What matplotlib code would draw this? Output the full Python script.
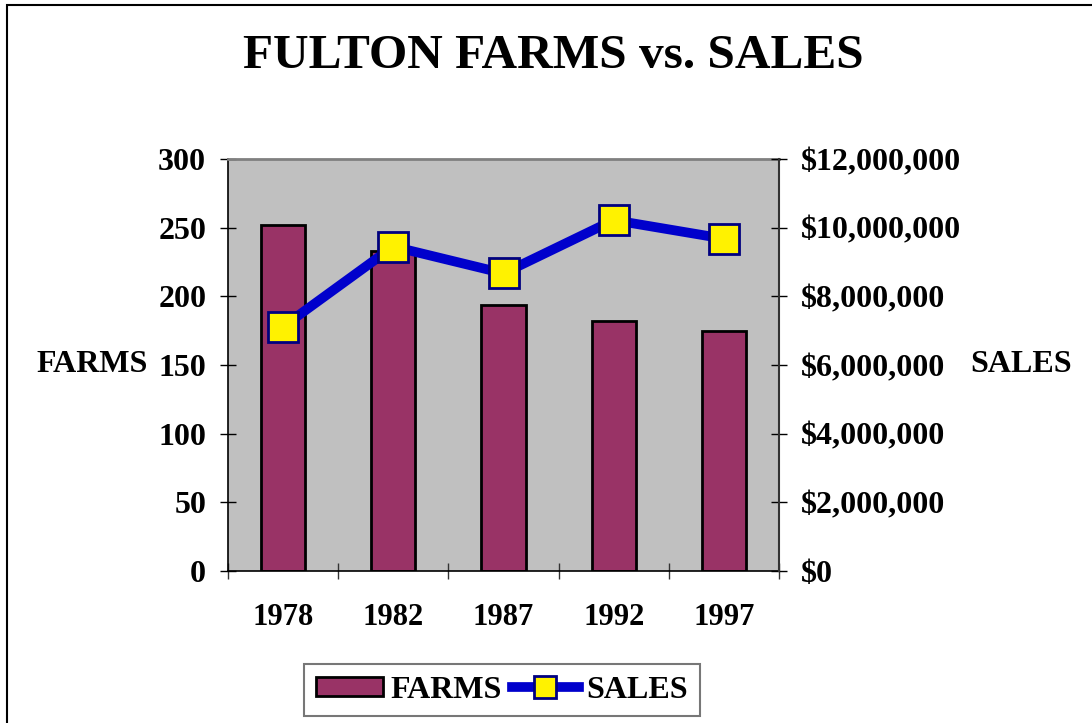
import matplotlib.pyplot as plt
from matplotlib.patches import Rectangle
from matplotlib.ticker import FuncFormatter, MultipleLocator

years = ["1978", "1982", "1987", "1992", "1997"]
farms = [252, 233, 194, 182, 175]
sales = [7120000, 9450000, 8670000, 10220000, 9680000]

plt.rcParams["font.family"] = ["Liberation Serif", "DejaVu Serif"]
plt.rcParams["font.weight"] = "bold"

W, H = 1092, 723
fig = plt.figure(figsize=(W / 100, H / 100), dpi=100)
fig.patch.set_facecolor("white")

# outer chart border (only top and left visible in the reference)
fig.patches.append(Rectangle((7 / W, -0.1), 1.2, 1 - 5 / H + 0.1, transform=fig.transFigure,
                             fill=False, edgecolor="black", linewidth=1.5))

ax = fig.add_axes([228 / W, 1 - 571 / H, (779 - 228) / W, (571 - 159) / H])
ax.set_facecolor("#C0C0C0")
x = list(range(len(years)))
ax.bar(x, farms, width=0.4, color="#993366", edgecolor="black", linewidth=2, zorder=2)
ax.set_xlim(-0.5, len(years) - 0.5)
ax.set_ylim(0, 300)
ax.yaxis.set_major_locator(MultipleLocator(50))
ax.set_xticks([i - 0.5 for i in range(len(years) + 1)])
ax.set_xticklabels([])
ax.set_xticks(x, minor=True)
ax.set_xticklabels(years, minor=True, fontsize=22, fontweight="bold")
ax.tick_params(axis="x", which="minor", length=0, pad=23)
ax.tick_params(axis="x", which="major", direction="inout", length=12, width=1, color="#333333")
ax.tick_params(axis="y", direction="inout", length=11.5, width=1, labelsize=23, pad=10)
for lab in ax.get_yticklabels():
    lab.set_fontweight("bold")
ax.spines["top"].set_color("#808080")
ax.spines["top"].set_linewidth(2)
ax.spines["left"].set_linewidth(1.2)
ax.spines["bottom"].set_linewidth(1.2)
ax.spines["right"].set_visible(False)

ax2 = ax.twinx()
line, = ax2.plot(x, sales, color="#0000CC", linewidth=7, marker="s", markersize=21,
                 markerfacecolor="#FFF200", markeredgecolor="#000080", markeredgewidth=2,
                 zorder=3)
ax2.set_ylim(0, 12000000)
ax2.yaxis.set_major_locator(MultipleLocator(2000000))
ax2.yaxis.set_major_formatter(FuncFormatter(lambda v, p: f"${v:,.0f}"))
ax2.tick_params(axis="y", direction="inout", length=11.5, width=1, labelsize=23, pad=10)
for lab in ax2.get_yticklabels():
    lab.set_fontweight("bold")
ax2.spines["right"].set_color("#333333")
ax2.spines["right"].set_linewidth(1.5)
ax2.spines["top"].set_visible(False)
ax2.spines["left"].set_visible(False)
ax2.spines["bottom"].set_visible(False)

fig.text(553 / W, 1 - 56 / H, "FULTON FARMS vs. SALES", ha="center", va="center",
         fontsize=35.5, fontweight="bold")
fig.text(92 / W, 1 - 365 / H, "FARMS", ha="center", va="center", fontsize=23, fontweight="bold")
fig.text(1021 / W, 1 - 365 / H, "SALES", ha="center", va="center", fontsize=23, fontweight="bold")

bar_handle = Rectangle((0, 0), 1, 1, facecolor="#993366", edgecolor="black", linewidth=2)
leg = fig.legend([bar_handle, line], ["FARMS", "SALES"], loc="center",
                 bbox_to_anchor=(502 / W, 1 - 690 / H), ncol=2, frameon=True, fancybox=False,
                 edgecolor="#555555", handlelength=2.1, handleheight=0.55, handletextpad=0.25,
                 columnspacing=0.3, borderpad=0.35, borderaxespad=0,
                 prop={"weight": "bold", "size": 23})
leg.get_frame().set_linewidth(1.5)
leg.legend_handles[1].set_markersize(16)

fig.savefig("out.png", dpi=100, facecolor="white")
